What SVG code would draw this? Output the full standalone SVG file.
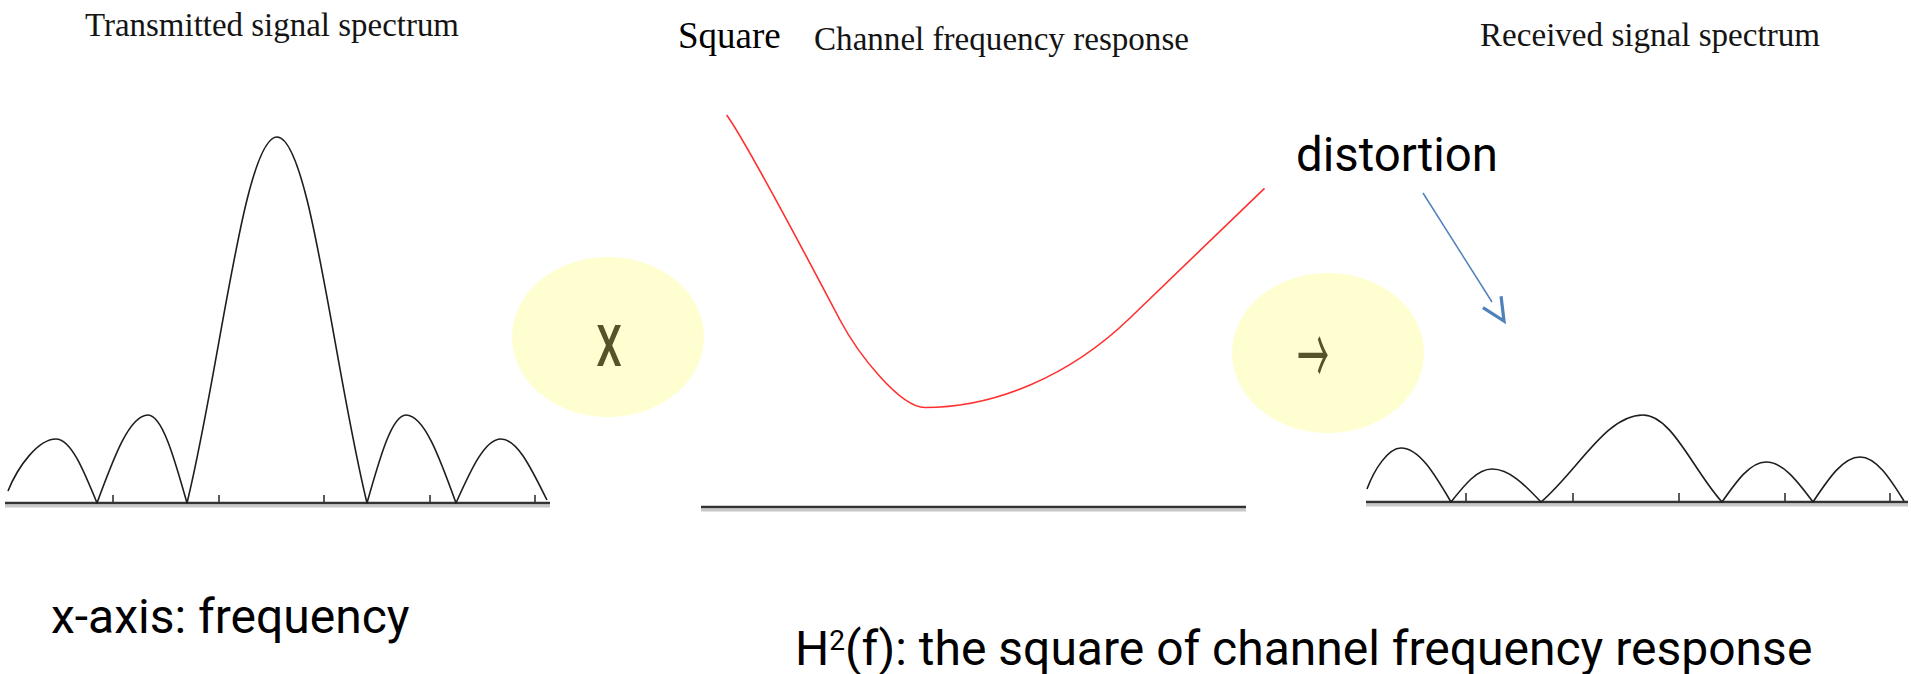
<svg xmlns="http://www.w3.org/2000/svg" width="1911" height="674" viewBox="0 0 1911 674">
<style>
.title{font-family:"Liberation Serif","Times New Roman",serif;fill:#141414;}
.label{font-family:Roboto,"Liberation Sans",sans-serif;font-size:48px;fill:#000;}
.spec{fill:none;stroke:#1e1e1e;stroke-width:1.6;stroke-linejoin:round;}
.axis{stroke:#333;stroke-width:2.6;}
.shadow{stroke:#c8c8c8;stroke-width:3;}
.tick{stroke:#333;stroke-width:1.6;}
.op{fill:#fffed0;}
.opsym{fill:#55532a;}
.chan{fill:none;stroke:#ff3030;stroke-width:1.6;stroke-linejoin:round;}
.conn{fill:none;stroke:#4f81bd;stroke-width:1.5;}
</style>
<defs>
<marker id="openhead" markerUnits="userSpaceOnUse" markerWidth="30" markerHeight="30" viewBox="-2 -14 28 28" refX="0" refY="0" orient="auto">
<path d="M0,-10 L21,0 L0,10" fill="none" stroke="#4f81bd" stroke-width="3"/>
</marker>
</defs>
<rect width="1911" height="674" fill="#fff"/>

<g id="transmitted">
<text class="title" x="85" y="36" font-size="34" textLength="374" lengthAdjust="spacingAndGlyphs">Transmitted signal spectrum</text>
<line class="shadow" x1="5" y1="506" x2="550" y2="506"/>
<line class="axis" x1="5" y1="503" x2="550" y2="503"/>
<path class="tick" d="M113,495V503M219,495V503M324,495V503M430,495V503M535,495V503"/>
<path class="spec" d="M8,491 C18,466 38.4,439 56,439 C70.8,439 83.3,469.4 97,503 C114,456.8 129.6,415 148,415 C162,415 174,456.8 187,503 C219.9,369.4 244.2,137 277,137 C309.8,137 334.1,369.4 367,503 C380,456.8 392,415 406,415 C424,415 439.3,456.8 456,503 C471,469.4 484.8,439 501,439 C517.6,439 531.6,469.4 547,500"/>
</g>

<g id="op-multiply">
<ellipse class="op" cx="608" cy="337" rx="96" ry="80"/>
<text class="opsym" transform="translate(609,366) scale(0.7,1)" font-family="Roboto,'Liberation Sans',sans-serif" font-weight="500" font-size="58" text-anchor="middle">X</text>
</g>

<g id="channel">
<text x="678" y="48" font-family="'Liberation Serif','Times New Roman',serif" font-size="37" fill="#000">Square</text>
<text class="title" x="814" y="50" font-size="33" textLength="375" lengthAdjust="spacingAndGlyphs">Channel frequency response</text>
<line class="shadow" x1="701" y1="510" x2="1246" y2="510"/>
<line class="axis" x1="701" y1="507" x2="1246" y2="507"/>
<path class="chan" d="M726.6,115 C740,133 790,225 840,320 C858,354 900,407.5 925,407.5 C995,407.5 1070,376 1130,318 L1264.5,188.3"/>
</g>

<g id="op-arrow">
<ellipse class="op" cx="1328" cy="353" rx="96" ry="80"/>
<text class="opsym" transform="translate(1313,355) scale(0.72,1.8)" x="0" y="16.5" font-family="'Noto Sans CJK SC','DejaVu Sans',sans-serif" font-weight="400" font-size="44" text-anchor="middle">→</text>
</g>

<g id="received">
<text class="title" x="1480" y="46" font-size="34" textLength="340" lengthAdjust="spacingAndGlyphs">Received signal spectrum</text>
<line class="shadow" x1="1366" y1="505" x2="1908" y2="505"/>
<line class="axis" x1="1366" y1="502" x2="1908" y2="502"/>
<path class="tick" d="M1466,493V502M1573,493V502M1679,493V502M1785,493V502M1890,493V502"/>
<path class="spec" d="M1367,489 C1374,470 1388,448 1401,448 C1419,448 1434.3,473.6 1451,502 C1464.7,484.7 1477.2,469 1492,469 C1509.6,469 1524.6,484.7 1541,502 C1578.2,470.2 1605.8,415 1643,415 C1671.8,415 1693.2,470.2 1722,502 C1736.7,481 1750.2,462 1766,462 C1782.9,462 1797.3,481 1813,502 C1828.7,478.4 1843.1,457 1860,457 C1876.2,457 1890,478.4 1904,501"/>
</g>

<g id="distortion-label">
<text class="label" x="1296" y="171" textLength="202" lengthAdjust="spacingAndGlyphs">distortion</text>
</g>

<g id="connectors">
<line class="conn" x1="1423" y1="193" x2="1492" y2="302" marker-end="url(#openhead)"/>
</g>

<g id="notes">
<text class="label" x="51" y="633">x-axis: frequency</text>
<text class="label" x="795" y="665">H<tspan font-size="28" dy="-15">2</tspan><tspan dy="15">(f): the square of channel frequency response</tspan></text>
</g>
</svg>
